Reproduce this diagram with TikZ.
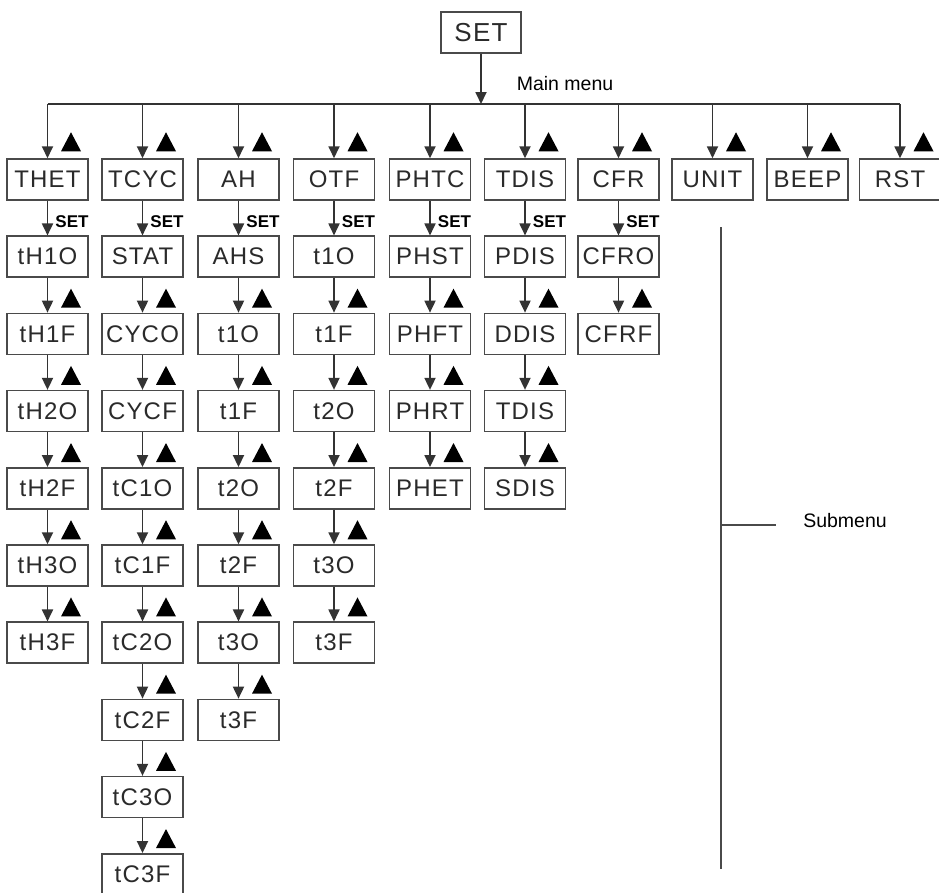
\documentclass[tikz,border=0pt]{standalone}
\usepackage{fontspec}
\setmainfont{Liberation Sans}
\newfontfamily\boxfont[LetterSpace=5]{Liberation Sans}
\usetikzlibrary{arrows.meta}
\definecolor{ln}{HTML}{333333}
\definecolor{bx}{HTML}{4A4A4A}
\definecolor{tx}{HTML}{2A2A2A}
\begin{document}
\begin{tikzpicture}[x=1pt,y=-1pt,
  box/.style={draw=bx, line width=1.5pt, minimum width=81pt, minimum height=41pt, inner sep=0pt,
    font=\boxfont\fontsize{24}{28}\selectfont, text=tx},
  arr/.style={draw=ln, line width=1.8pt, -{Triangle[width=11pt,length=12pt]}},
  busline/.style={draw=ln, line width=1.8pt},
  setlbl/.style={font=\bfseries\fontsize{17}{20}\selectfont, text=black, inner sep=0pt},
  lbl/.style={font=\fontsize{19.5}{23}\selectfont, text=black, inner sep=0pt},
  uptri/.pic={\fill[black] (-10,0) -- (10,0) -- (0,-19) -- cycle;}
]
\fill[white] (0,0) rectangle (939,892);
\useasboundingbox (0,0) rectangle (939,892);

\node[box, minimum width=80pt, font=\boxfont\fontsize{26}{30}\selectfont] (set) at (481,32.5) {SET};
\coordinate (busL) at (0,104);
\node[lbl] (mainmenu) at (565,84) {Main menu};

\foreach \x/\items [count=\c] in {
  47.5/{THET,tH1O,tH1F,tH2O,tH2F,tH3O,tH3F},
  142.5/{TCYC,STAT,CYCO,CYCF,tC1O,tC1F,tC2O,tC2F,tC3O,tC3F},
  238.5/{AH,AHS,t1O,t1F,t2O,t2F,t3O,t3F},
  334/{OTF,t1O,t1F,t2O,t2F,t3O,t3F},
  430/{PHTC,PHST,PHFT,PHRT,PHET},
  525/{TDIS,PDIS,DDIS,TDIS,SDIS},
  618.5/{CFR,CFRO,CFRF},
  712.5/{UNIT},
  807.5/{BEEP},
  900/{RST}} {
  \foreach \t [count=\r from 0] in \items {
    \node[box] (n-\c-\r) at (\x,{179.5+77.2*\r}) {\t};
    \ifnum\r=0
      \draw[arr] (n-\c-0.north |- busL) -- (n-\c-0.north);
      \pic at ([shift={(23.5,-7)}]n-\c-0.north) {uptri};
    \else
      \pgfmathtruncatemacro\p{\r-1}
      \draw[arr] (n-\c-\p.south) -- (n-\c-\r.north);
      \ifnum\r=1
        \node[setlbl] at ([shift={(24.5,-14)}]n-\c-\r.north) {SET};
      \else
        \pic at ([shift={(23.5,-5)}]n-\c-\r.north) {uptri};
      \fi
    \fi
  }
}
\draw[busline] (n-1-0.north |- busL) -- (n-10-0.north |- busL);
\draw[arr] (set.south) -- (set.south |- busL);

\coordinate (subtop) at (721,227);
\coordinate (subbot) at (721,869);
\coordinate (subtick) at (721,525);
\coordinate (subtickend) at (776,525);
\draw[draw=bx, line width=2pt] (subtop) -- (subbot);
\draw[draw=bx, line width=1.6pt] (subtick) -- (subtickend);
\node[lbl] (submenu) at (845,521) {Submenu};
\end{tikzpicture}
\end{document}
